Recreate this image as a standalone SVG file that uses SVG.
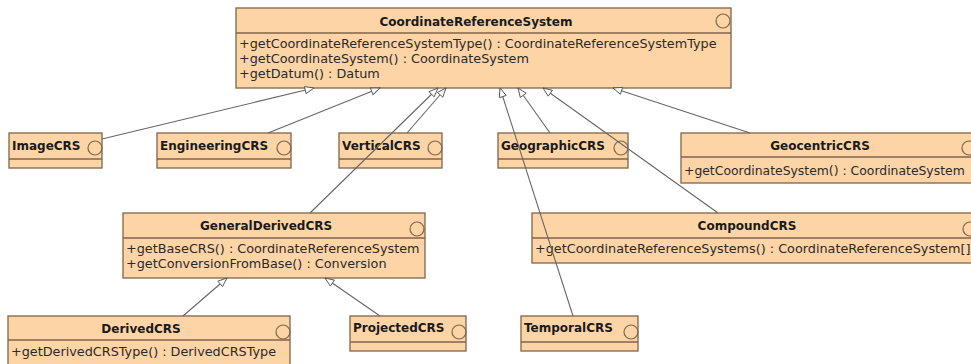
<svg xmlns="http://www.w3.org/2000/svg" width="971" height="364" viewBox="0 0 971 364">
<defs>
<marker id="gen" viewBox="0 0 12 10" refX="11" refY="5" markerWidth="11" markerHeight="9" markerUnits="userSpaceOnUse" orient="auto">
<path d="M1,1 L11,5 L1,9 Z" fill="#ffffff" stroke="#555555" stroke-width="1"/>
</marker>
</defs>
<style>
.box{fill:#fdd4a6;stroke:#80644a;stroke-width:1.3}
.sep{stroke:#80644a;stroke-width:1.3}
.ic{fill:none;stroke:#80644a;stroke-width:1.2}
.t{font-family:"DejaVu Sans",sans-serif;font-size:12px;font-weight:bold;fill:#1a1a1a}
.tc{text-anchor:middle}
.m{font-family:"DejaVu Sans",sans-serif;font-size:12.8px;fill:#2a2a2a}
.c{stroke:#666666;stroke-width:1.1;fill:none;marker-end:url(#gen)}
</style>
<rect width="971" height="364" fill="#ffffff"/>
<g id="CoordinateReferenceSystem">
<rect class="box" x="236" y="8" width="495" height="80"/>
<line class="sep" x1="236" y1="33" x2="731" y2="33"/>
<circle class="ic" cx="723" cy="21" r="7"/>
<text class="t tc" x="476" y="26">CoordinateReferenceSystem</text>
<text class="m" x="239" y="48">+getCoordinateReferenceSystemType() : CoordinateReferenceSystemType</text>
<text class="m" x="239" y="63">+getCoordinateSystem() : CoordinateSystem</text>
<text class="m" x="239" y="78">+getDatum() : Datum</text>
</g>
<g id="ImageCRS">
<rect class="box" x="9" y="133" width="93" height="35"/>
<line class="sep" x1="9" y1="159" x2="102" y2="159"/>
<circle class="ic" cx="95" cy="148" r="7"/>
<text class="t" x="12" y="150">ImageCRS</text>
</g>
<g id="EngineeringCRS">
<rect class="box" x="157" y="133" width="134" height="35"/>
<line class="sep" x1="157" y1="159" x2="291" y2="159"/>
<circle class="ic" cx="284" cy="148" r="7"/>
<text class="t" x="160" y="150">EngineeringCRS</text>
</g>
<g id="VerticalCRS">
<rect class="box" x="339" y="133" width="103" height="35"/>
<line class="sep" x1="339" y1="159" x2="442" y2="159"/>
<circle class="ic" cx="435" cy="148" r="7"/>
<text class="t" x="342" y="150">VerticalCRS</text>
</g>
<g id="GeographicCRS">
<rect class="box" x="498" y="133" width="130" height="35"/>
<line class="sep" x1="498" y1="159" x2="628" y2="159"/>
<circle class="ic" cx="621" cy="148" r="7"/>
<text class="t" x="501" y="150">GeographicCRS</text>
</g>
<g id="GeocentricCRS">
<rect class="box" x="681" y="133" width="295" height="50"/>
<line class="sep" x1="681" y1="157" x2="976" y2="157"/>
<circle class="ic" cx="969" cy="148" r="7"/>
<text class="t tc" x="820" y="150">GeocentricCRS</text>
<text class="m" x="684" y="175" style="font-size:12.4px">+getCoordinateSystem() : CoordinateSystem</text>
</g>
<g id="GeneralDerivedCRS">
<rect class="box" x="123" y="213" width="302" height="65"/>
<line class="sep" x1="123" y1="238" x2="425" y2="238"/>
<circle class="ic" cx="417" cy="229" r="7"/>
<text class="t tc" x="266" y="230">GeneralDerivedCRS</text>
<text class="m" x="126" y="253">+getBaseCRS() : CoordinateReferenceSystem</text>
<text class="m" x="126" y="268">+getConversionFromBase() : Conversion</text>
</g>
<g id="CompoundCRS">
<rect class="box" x="532" y="213" width="445" height="50"/>
<line class="sep" x1="532" y1="238" x2="977" y2="238"/>
<circle class="ic" cx="970" cy="229" r="7"/>
<text class="t tc" x="747" y="230">CompoundCRS</text>
<text class="m" x="535" y="253">+getCoordinateReferenceSystems() : CoordinateReferenceSystem[]</text>
</g>
<g id="DerivedCRS">
<rect class="box" x="8" y="316" width="282" height="60"/>
<line class="sep" x1="8" y1="340" x2="290" y2="340"/>
<circle class="ic" cx="283" cy="332" r="7"/>
<text class="t tc" x="141" y="333">DerivedCRS</text>
<text class="m" x="11" y="356">+getDerivedCRSType() : DerivedCRSType</text>
</g>
<g id="ProjectedCRS">
<rect class="box" x="350" y="316" width="116" height="35"/>
<line class="sep" x1="350" y1="342" x2="466" y2="342"/>
<circle class="ic" cx="459" cy="332" r="7"/>
<text class="t" x="353" y="332">ProjectedCRS</text>
</g>
<g id="TemporalCRS">
<rect class="box" x="521" y="316" width="117" height="35"/>
<line class="sep" x1="521" y1="342" x2="638" y2="342"/>
<circle class="ic" cx="631" cy="332" r="7"/>
<text class="t" x="524" y="332">TemporalCRS</text>
</g>
<g id="connectors">
<line class="c" x1="102" y1="139" x2="314" y2="88"/>
<line class="c" x1="268" y1="133" x2="380" y2="88"/>
<line class="c" x1="407" y1="133" x2="446" y2="88"/>
<line class="c" x1="310" y1="213" x2="438" y2="88"/>
<line class="c" x1="550" y1="133" x2="518" y2="88"/>
<line class="c" x1="573" y1="316" x2="500" y2="88"/>
<line class="c" x1="718" y1="213" x2="543" y2="88"/>
<line class="c" x1="750" y1="133" x2="613" y2="88"/>
<line class="c" x1="183" y1="316" x2="227" y2="278"/>
<line class="c" x1="380" y1="316" x2="325" y2="278"/>
</g>
</svg>
